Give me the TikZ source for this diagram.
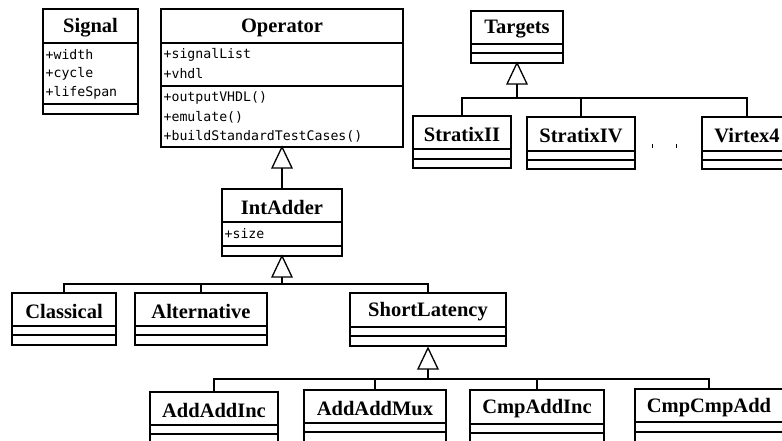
\documentclass[tikz,border=0pt]{standalone}
\usepackage{fontspec}
\setmainfont{Liberation Serif}
\setmonofont{DejaVu Sans Mono}
\begin{document}
\begin{tikzpicture}[x=1pt,y=-1pt,line width=1.3pt,
  cls/.style={draw,rectangle,inner sep=0pt,outer sep=0pt},
  ttl/.style={inner sep=0pt,font=\fontsize{20.5}{22}\selectfont\bfseries},
  mem/.style={inner sep=0pt,anchor=west,font=\fontsize{13.2}{14}\selectfont\ttfamily},
  inh/.style={draw,fill=white,line width=1.3pt},
  conn/.style={line width=1.3pt}]
\useasboundingbox (0,0) rectangle (782,441);
\newcommand{\ucls}[8]{%
  \node[cls,minimum width={#4-#2},minimum height={#5-#3},anchor=north west] (#1) at (#2,#3) {};
  \draw (#2,#6) -- (#4,#6);
  \draw (#2,#7) -- (#4,#7);
  \node[ttl] (#1-t) at ({(#2+#4)/2},{(#3+#6)/2+2}) {#8};
}
\newcommand{\utri}[3]{% name, x, apex y
  \draw[inh] (#2,#3) -- (#2-10,#3+21) -- (#2+10,#3+21) -- cycle;
  \coordinate (#1) at (#2,#3+21);
}
% Signal
\ucls{signal}{43}{9}{138}{114}{43}{104}{Signal}
\node[mem] (sw) at (45,55) {+width};
\node[mem] (sc) at (45,74) {+cycle};
\node[mem] (sl) at (45,93) {+lifeSpan};
% Operator
\ucls{operator}{161}{9}{403}{147}{43}{86}{Operator}
\node[mem] (o1) at (163,55) {+signalList};
\node[mem] (o2) at (163,74) {+vhdl};
\node[mem] (o3) at (163,98) {+outputVHDL()};
\node[mem] (o4) at (163,117) {+emulate()};
\node[mem] (o5) at (163,136) {+buildStandardTestCases()};
% IntAdder
\ucls{intadder}{222}{189}{342}{256}{222}{246}{IntAdder}
\node[mem] (ia1) at (224,234) {+size};
\utri{opbase}{282}{147}
\draw[conn] (opbase) -- (intadder.north -| opbase);
% level 2
\ucls{classical}{12}{293}{116}{345}{326}{335}{Classical}
\ucls{alternative}{135}{293}{267}{345}{326}{335}{Alternative}
\ucls{shortlat}{350}{293}{506}{346}{327}{336}{ShortLatency}
\utri{iabase}{282}{256}
\coordinate (j1) at (282,284);
\draw[conn] (iabase) -- (j1);
\draw[conn] (classical.north) |- (j1);
\draw[conn] (alternative.north) |- (j1);
\draw[conn] (shortlat.north) |- (j1);
% level 3
\ucls{aai}{150}{392}{278}{470}{425}{434}{AddAddInc}
\ucls{aam}{304}{390}{446}{470}{423}{432}{AddAddMux}
\ucls{cai}{470}{390}{604}{470}{424}{433}{CmpAddInc}
\ucls{cca}{635}{389}{783}{470}{422}{432}{CmpCmpAdd}
\utri{slbase}{428}{348}
\coordinate (j2) at (428,379);
\draw[conn] (slbase) -- (j2);
\draw[conn] (aai.north) |- (j2);
\draw[conn] (aam.north) |- (j2);
\draw[conn] (cai.north) |- (j2);
\draw[conn] (cca.north) |- (j2);
% Targets
\ucls{targets}{471}{11}{563}{63}{44}{53}{Targets}
\ucls{s2}{413}{116}{511}{168}{149}{159}{StratixII}
\ucls{s4}{527}{117}{635}{169}{151}{160}{StratixIV}
\ucls{v4}{702}{117}{792}{169}{151}{160}{Virtex4}
\utri{tbase}{517}{63}
\coordinate (j3) at (517,98);
\draw[conn] (tbase) -- (j3);
\draw[conn] (s2.north) |- (j3);
\draw[conn] (s4.north) |- (j3);
\draw[conn] (v4.north) |- (j3);
% dots
\draw[line width=0.8pt] (652,144) -- (652,148);
\draw[line width=0.8pt] (676,144) -- (676,148);
\end{tikzpicture}
\end{document}
